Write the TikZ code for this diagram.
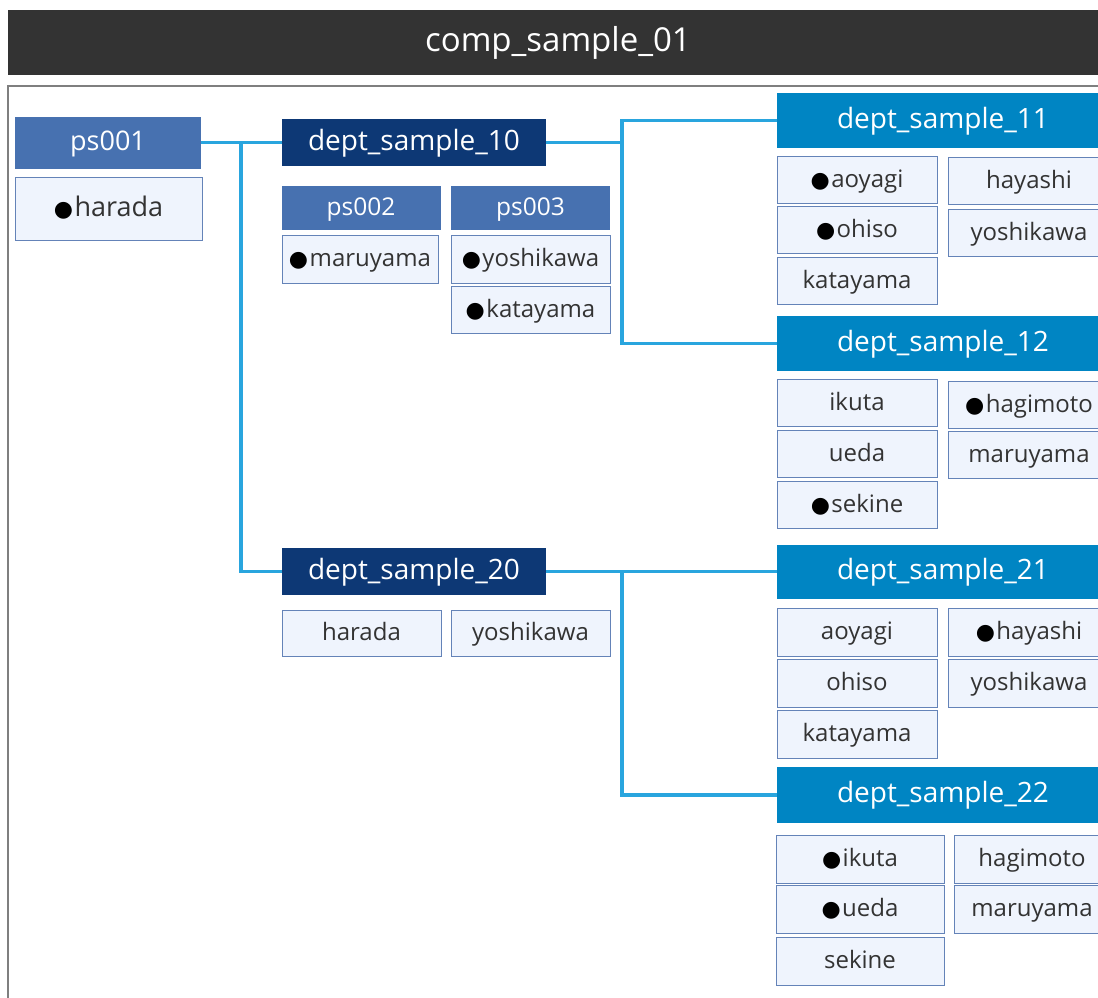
\documentclass[tikz,border=0pt]{standalone}
\usepackage{fontspec}
\setmainfont{Open Sans}
\newfontfamily\bulletfont{DejaVu Sans}
\definecolor{titlegray}{HTML}{333333}
\definecolor{framegray}{HTML}{7F7F7F}
\definecolor{deptdark}{HTML}{0D3875}
\definecolor{deptlight}{HTML}{0085C3}
\definecolor{postblue}{HTML}{4771B0}
\definecolor{memberfill}{HTML}{EFF4FD}
\definecolor{memberline}{HTML}{6483B8}
\definecolor{linkblue}{HTML}{29A5DE}
\definecolor{nametext}{HTML}{333333}
\newcommand{\chief}{{\bulletfont\fontsize{22}{22}\selectfont\color{black}●}\hspace{1.5pt}}

\begin{document}
\begin{tikzpicture}[x=1pt, y=-1pt,
  box/.style={rectangle, inner sep=0pt, anchor=center, text depth=4pt},
  title/.style={box, fill=titlegray, text=white, minimum width=1100pt, minimum height=65pt, text height=22pt, font=\fontsize{33}{33}\selectfont},
  deptroot/.style={box, fill=deptdark, text=white, minimum width=264pt, minimum height=47pt, text height=19pt, font=\fontsize{28}{28}\selectfont},
  deptleaf/.style={box, fill=deptlight, text=white, minimum width=332pt, minimum height=55pt, text height=19pt, font=\fontsize{28}{28}\selectfont},
  post/.style={box, fill=postblue, text=white, minimum width=159pt, minimum height=44pt, text height=18pt, font=\fontsize{24.5}{24.5}\selectfont},
  member/.style={box, fill=memberfill, draw=memberline, line width=1pt, text=nametext, minimum width=160pt, minimum height=47pt, text height=19pt, font=\fontsize{24}{24}\selectfont},
  link/.style={draw=linkblue, line width=3.2pt}]
\useasboundingbox (0,0) rectangle (1098,997);
\clip (0,0) rectangle (1098,997);

% header and frame
\node[title] (title) at (558,42.5) {comp\_sample\_01};
\draw[framegray, line width=1.5pt] (8,86) rectangle (1130,1030);

% ps001
\node[post, minimum width=186pt, minimum height=52pt, text height=20pt, font=\fontsize{27}{27}\selectfont] (ps001) at (108,142.5) {ps001};
\node[member, minimum width=187pt, minimum height=63pt, text height=20pt, font=\fontsize{27}{27}\selectfont] (ps001m1) at (108.5,208.5) {\chief harada};

% dept_sample_10
\node[deptroot] (d10) at (414,142.5) {dept\_sample\_10};
\node[post] (ps002) at (361,208) {ps002};
\node[member, minimum width=156pt, minimum height=48pt] (ps002m1) at (360,259) {\chief maruyama};
\node[post] (ps003) at (530.5,208) {ps003};
\node[member, minimum width=159pt, minimum height=48pt] (ps003m1) at (530.5,259) {\chief yoshikawa};
\node[member, minimum width=159pt] (ps003m2) at (530.5,309.5) {\chief katayama};

% dept_sample_11
\node[deptleaf] (d11) at (943,120.5) {dept\_sample\_11};
\node[member] (d11m1) at (857,179.5) {\chief aoyagi};
\node[member, minimum width=162pt] (d11m2) at (1029,181) {hayashi};
\node[member] (d11m3) at (857,230) {\chief ohiso};
\node[member, minimum width=162pt] (d11m4) at (1029,232.5) {yoshikawa};
\node[member] (d11m5) at (857,280.5) {katayama};

% dept_sample_12
\node[deptleaf] (d12) at (943,343.5) {dept\_sample\_12};
\node[member] (d12m1) at (857,403) {ikuta};
\node[member, minimum width=162pt] (d12m2) at (1029,404.5) {\chief hagimoto};
\node[member] (d12m3) at (857,453.5) {ueda};
\node[member, minimum width=162pt] (d12m4) at (1029,454.5) {maruyama};
\node[member] (d12m5) at (857,504.5) {\chief sekine};

% dept_sample_20
\node[deptroot] (d20) at (414,571.5) {dept\_sample\_20};
\node[member, minimum width=159pt, minimum height=46pt] (d20m1) at (361.5,633) {harada};
\node[member, minimum width=159pt, minimum height=46pt] (d20m2) at (530.5,633) {yoshikawa};

% dept_sample_21
\node[deptleaf, minimum height=54pt] (d21) at (943,571.5) {dept\_sample\_21};
\node[member, minimum height=48pt] (d21m1) at (857,632) {aoyagi};
\node[member, minimum width=162pt, minimum height=48pt] (d21m2) at (1029,632) {\chief hayashi};
\node[member, minimum height=48pt] (d21m3) at (857,683) {ohiso};
\node[member, minimum width=162pt, minimum height=48pt] (d21m4) at (1029,683) {yoshikawa};
\node[member, minimum height=48pt] (d21m5) at (857,734) {katayama};

% dept_sample_22
\node[deptleaf, minimum height=56pt] (d22) at (943,795) {dept\_sample\_22};
\node[member, minimum width=168pt, minimum height=48pt] (d22m1) at (860,859) {\chief ikuta};
\node[member, minimum width=156pt, minimum height=48pt] (d22m2) at (1032,859) {hagimoto};
\node[member, minimum width=168pt, minimum height=48pt] (d22m3) at (860,909) {\chief ueda};
\node[member, minimum width=156pt, minimum height=48pt] (d22m4) at (1032,909) {maruyama};
\node[member, minimum width=168pt, minimum height=48pt] (d22m5) at (860,961) {sekine};

% connectors
\coordinate (j1) at (241,142.5);
\coordinate (j2) at (622,142.5);
\coordinate (j3) at (622,571.5);
\draw[link] (ps001.east) -- (d10.west);
\draw[link] (j1) |- (d20.west);
\draw[link] (d10.east) -- (j2) |- (d11.west);
\draw[link] (j2) |- (d12.west);
\draw[link] (d20.east) -- (d21.west);
\draw[link] (j3) |- (d22.west);
\end{tikzpicture}
\end{document}
